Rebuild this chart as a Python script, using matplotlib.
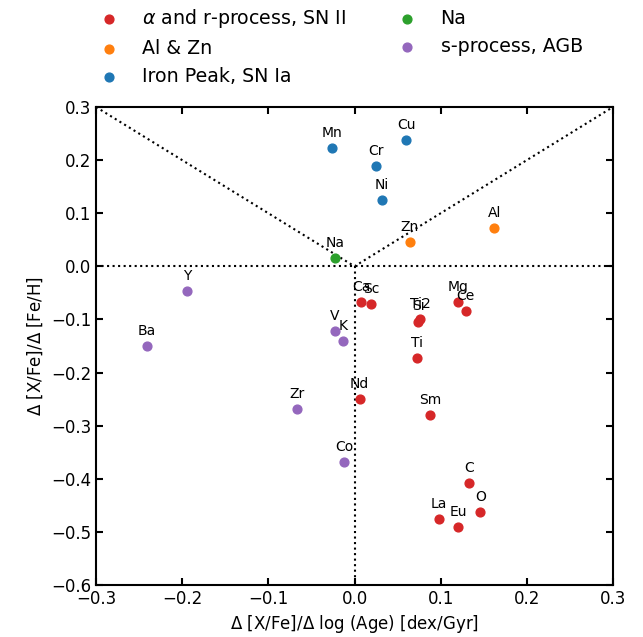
import matplotlib
matplotlib.use("Agg")
import matplotlib.pyplot as plt

# alpha and r-process, SN II
alpha_names = ["Ca", "Sc", "Ti2", "Si", "Ti", "Mg", "Ce", "Nd", "Sm", "C", "La", "Eu", "O"]
alpha_x = [0.0075, 0.019, 0.076, 0.074, 0.072, 0.120, 0.129, 0.006, 0.088, 0.133, 0.098, 0.120, 0.146]
alpha_y = [-0.067, -0.071, -0.100, -0.104, -0.173, -0.067, -0.084, -0.250, -0.280, -0.408, -0.476, -0.491, -0.463]

# Al & Zn
alzn_names = ["Zn", "Al"]
alzn_x = [0.064, 0.162]
alzn_y = [0.046, 0.072]

# Iron peak, SN Ia
fe_names = ["Mn", "Cu", "Cr", "Ni"]
fe_x = [-0.026, 0.060, 0.025, 0.032]
fe_y = [0.223, 0.238, 0.189, 0.125]

# Na
na_names = ["Na"]
na_x = [-0.023]
na_y = [0.016]

# s-process, AGB
s_names = ["Y", "Ba", "V", "K", "Zr", "Co"]
s_x = [-0.194, -0.241, -0.023, -0.013, -0.067, -0.012]
s_y = [-0.047, -0.150, -0.122, -0.141, -0.269, -0.369]

groups = [
    (alpha_names, alpha_x, alpha_y, "tab:red", r"$\alpha$ and r-process, SN II"),
    (alzn_names, alzn_x, alzn_y, "tab:orange", "Al & Zn"),
    (fe_names, fe_x, fe_y, "tab:blue", "Iron Peak, SN Ia"),
    (na_names, na_x, na_y, "tab:green", "Na"),
    (s_names, s_x, s_y, "tab:purple", "s-process, AGB"),
]

fig = plt.figure(figsize=(6.43, 6.37), dpi=100)
ax = fig.add_axes([96 / 643, 1 - 585 / 637, (613 - 96) / 643, (585 - 107) / 637])

# guide lines
ax.plot([-0.3, 0, 0.3], [0.3, 0, 0.3], ls=":", color="k", lw=1.5)
ax.plot([-0.3, 0.3], [0, 0], ls=":", color="k", lw=1.5)
ax.plot([0, 0], [0, -0.6], ls=":", color="k", lw=1.5)

for names, xs, ys, c, lab in groups:
    ax.scatter(xs, ys, color=c, s=40, label=lab, zorder=3)
    for n, x, y in zip(names, xs, ys):
        ax.annotate(n, (x, y), xytext=(0, 6), textcoords="offset points",
                    ha="center", va="bottom", fontsize=10)

ax.set_xlim(-0.3, 0.3)
ax.set_ylim(-0.6, 0.3)
ax.set_xticks([-0.3, -0.2, -0.1, 0.0, 0.1, 0.2, 0.3])
ax.set_yticks([-0.6, -0.5, -0.4, -0.3, -0.2, -0.1, 0.0, 0.1, 0.2, 0.3])
ax.tick_params(direction="in", top=True, right=True, labelsize=12, length=5, width=1.5)
for sp in ax.spines.values():
    sp.set_linewidth(1.5)
ax.set_xlabel(r"$\Delta$ [X/Fe]/$\Delta$ log (Age) [dex/Gyr]", fontsize=12)
ax.set_ylabel(r"$\Delta$ [X/Fe]/$\Delta$ [Fe/H]", fontsize=12)

fig.legend(loc="upper left", bbox_to_anchor=(88 / 643, 1 - 5 / 637), ncol=2, frameon=False,
           fontsize=13.7, columnspacing=2.2, handletextpad=0.75, labelspacing=0.48,
           borderaxespad=0.0, borderpad=0.1)

fig.savefig("out.png", dpi=100)
